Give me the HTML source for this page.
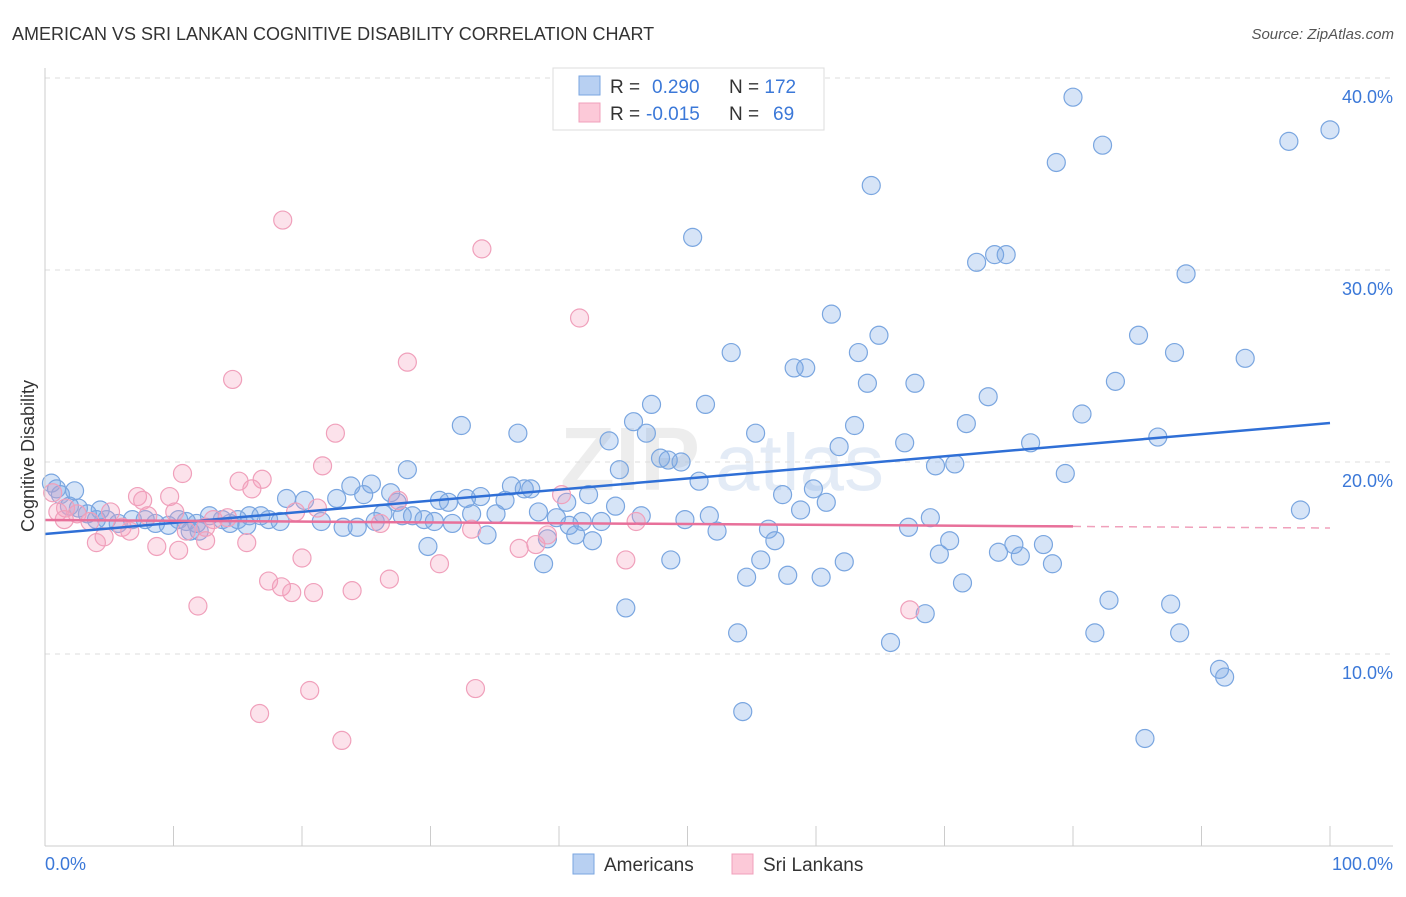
<!DOCTYPE html>
<html><head><meta charset="utf-8"><style>
body{margin:0;background:#fff;font-family:"Liberation Sans",sans-serif}
svg text{font-family:"Liberation Sans",sans-serif}
</style></head><body>
<svg id="chart" width="1406" height="892">
<text x="12" y="40" font-size="18" fill="#333">AMERICAN VS SRI LANKAN COGNITIVE DISABILITY CORRELATION CHART</text>
<text x="1394" y="39" font-size="15" fill="#555" font-style="italic" text-anchor="end">Source: ZipAtlas.com</text>
<text x="560" y="490" font-size="90" fill="#ddd" opacity="0.5" font-weight="bold">ZIP</text>
<text x="715" y="490" font-size="80" fill="#c8d8ee" opacity="0.5">atlas</text>
<text x="34" y="456" font-size="18" fill="#333" text-anchor="middle" transform="rotate(-90 34 456)">Cognitive Disability</text>
<g id="grid"></g><g id="pts"></g><g id="lines"></g>
<line x1="45" y1="846" x2="1393" y2="846" stroke="#ccc"/>
<line x1="45" y1="68" x2="45" y2="846" stroke="#ccc"/>
<text x="45" y="870" font-size="18" fill="#3b78d8">0.0%</text>
<text x="1393" y="870" font-size="18" fill="#3b78d8" text-anchor="end">100.0%</text>
<g>
<rect x="553" y="68" width="271" height="62" fill="#fff" stroke="#ddd"/>
<rect x="579" y="76" width="21" height="19" fill="#b8d0f2" stroke="#7aa6e0"/>
<rect x="579" y="103" width="21" height="19" fill="#fcc9d8" stroke="#f0a0bb"/>
<text x="610" y="93" font-size="19" fill="#333">R = <tspan fill="#3b78d8" x="652">0.290</tspan><tspan x="729">N = </tspan><tspan fill="#3b78d8">172</tspan></text>
<text x="610" y="120" font-size="19" fill="#333">R = <tspan fill="#3b78d8" x="646">-0.015</tspan><tspan x="729">N = </tspan><tspan fill="#3b78d8" x="773">69</tspan></text>
</g>
<g>
<rect x="573" y="854" width="21" height="20" fill="#b8d0f2" stroke="#7aa6e0"/>
<text x="604" y="871" font-size="19" fill="#333">Americans</text>
<rect x="732" y="854" width="21" height="20" fill="#fcc9d8" stroke="#f0a0bb"/>
<text x="763" y="871" font-size="19" fill="#333">Sri Lankans</text>
</g>
</svg>
<script>
const yTicks=[10,20,30,40];
const yTickLabels=["10.0%","20.0%","30.0%","40.0%"];
const xTicks=[0,10,20,30,40,50,60,70,80,90,100];
const blueX=[80.0,100,96.8,82.3,78.7,64.3,50.4,73.9,74.8,72.5,88.8,61.2,64.9,85.1,53.4,63.3,87.9,93.4,58.3,59.2,64.0,67.7,83.3,73.4,51.4,47.2,80.7,45.8,71.7,63.0,32.4,36.8,46.8,55.3,86.6,43.9,66.9,76.7,61.8,47.9,48.5,49.5,70.8,69.3,44.7,28.2,79.4,50.9,23.8,25.4,36.3,37.3,37.8,59.8,26.9,24.8,22.7,42.3,57.4,30.7,31.4,32.8,33.9,35.8,40.6,18.8,20.2,60.8,27.4,44.4,38.4,58.8,97.7,33.2,35.1,26.3,27.8,28.6,29.5,30.3,31.7,39.8,40.8,41.8,43.3,46.4,49.8,51.7,68.9,25.7,16.8,15.9,17.4,18.3,21.5,15.0,12.8,13.8,14.4,11.8,10.4,11.0,9.6,7.8,8.6,6.8,5.7,4.8,4.0,3.3,2.6,1.9,1.2,0.5,0.9,2.3,4.3,23.2,24.3,34.4,39.1,41.3,42.6,52.3,56.3,67.2,56.8,29.8,70.4,75.4,77.7,38.8,48.7,55.7,62.2,69.6,74.2,75.9,78.4,54.6,57.8,60.4,71.4,45.2,68.5,82.8,87.6,53.9,81.7,88.3,65.8,91.4,91.8,54.3,85.6,12.0,11.3,15.7];
const blueY=[39.0,37.3,36.7,36.5,35.6,34.4,31.7,30.8,30.8,30.4,29.8,27.7,26.6,26.6,25.7,25.7,25.7,25.4,24.9,24.9,24.1,24.1,24.2,23.4,23.0,23.0,22.5,22.1,22.0,21.9,21.9,21.5,21.5,21.5,21.3,21.1,21.0,21.0,20.8,20.2,20.1,20.0,19.9,19.8,19.6,19.6,19.4,19.0,18.75,18.85,18.75,18.6,18.6,18.6,18.4,18.3,18.1,18.3,18.3,18.0,17.9,18.1,18.2,18.0,17.9,18.1,18.0,17.9,17.9,17.7,17.4,17.5,17.5,17.3,17.3,17.3,17.2,17.2,17.0,16.9,16.8,17.1,16.7,16.9,16.9,17.2,17.0,17.2,17.1,16.9,17.2,17.2,17.0,16.9,16.9,17.0,17.2,17.0,16.8,16.8,17.0,16.9,16.7,17.0,16.8,17.0,16.8,17.0,17.0,17.3,17.6,17.7,18.3,18.9,18.6,18.5,17.5,16.6,16.6,16.2,16.0,16.2,15.9,16.4,16.5,16.6,15.9,15.6,15.9,15.7,15.7,14.7,14.9,14.9,14.8,15.2,15.3,15.1,14.7,14.0,14.1,14.0,13.7,12.4,12.1,12.8,12.6,11.1,11.1,11.1,10.6,9.2,8.8,7.0,5.6,16.4,16.4,16.7];
const pinkX=[18.5,34.0,41.6,28.2,14.6,22.6,21.6,10.7,15.1,16.9,16.1,40.2,7.2,9.7,7.6,0.6,27.5,21.2,19.5,5.1,1.6,1.0,2.5,10.1,8.0,14.2,13.1,26.1,46.0,1.5,3.5,6.0,12.5,11.0,33.2,6.6,4.6,39.1,4.0,15.7,12.5,8.7,10.4,36.9,38.2,20.0,30.7,45.2,17.4,18.4,26.8,19.2,20.9,23.9,11.9,67.3,20.6,33.5,16.7,23.1];
const pinkY=[32.6,31.1,27.5,25.2,24.3,21.5,19.8,19.4,19.0,19.1,18.6,18.3,18.2,18.2,18.0,18.4,18.0,17.6,17.4,17.4,17.6,17.4,17.3,17.4,17.2,17.1,17.0,16.8,16.9,17.0,16.9,16.6,16.6,16.4,16.5,16.4,16.1,16.2,15.8,15.8,15.9,15.6,15.4,15.5,15.7,15.0,14.7,14.9,13.8,13.5,13.9,13.2,13.2,13.3,12.5,12.3,8.1,8.2,6.9,5.5];
const blueTrend=[16.25,22.03];
const pinkTrend=[16.98,16.56];
const NS="http://www.w3.org/2000/svg";
const sx=v=>45+v*12.85, sy=v=>846-v*19.2;
function mk(t,a,p){const e=document.createElementNS(NS,t);for(const k in a)e.setAttribute(k,a[k]);p.appendChild(e);return e;}
const grid=document.getElementById('grid');
yTicks.forEach((t,i)=>{
 const l=mk('line',{x1:45,x2:1393,y1:sy(t),y2:sy(t),stroke:'#ddd','stroke-dasharray':'5,5'},grid);
 
 
 const tx=mk('text',{x:1393,y:sy(t)+25,'font-size':18,fill:'#3b78d8','text-anchor':'end'},grid);
 tx.textContent=yTickLabels[i];
 
 
});
xTicks.forEach(t=>{
 const l=mk('line',{x1:sx(t),x2:sx(t),y1:826,y2:846,stroke:'#ccc'},grid);
 
 
});
const pts=document.getElementById('pts');
blueX.forEach((x,i)=>{
 const c=mk('circle',{cx:sx(x),cy:sy(blueY[i]),r:9,fill:'rgba(120,165,230,0.3)',stroke:'#7aa6e0','stroke-width':1.2},pts);
 
 
});
pinkX.forEach((x,i)=>{
 const c=mk('circle',{cx:sx(x),cy:sy(pinkY[i]),r:9,fill:'rgba(245,160,190,0.3)',stroke:'#f0a0bb','stroke-width':1.2},pts);
 
 
});
const lines=document.getElementById('lines');
const bl=mk('line',{x1:sx(0),y1:sy(blueTrend[0]),x2:sx(100),y2:sy(blueTrend[1]),stroke:'#2f6fd6','stroke-width':2.5},lines);


const pe=pinkTrend[0]+(pinkTrend[1]-pinkTrend[0])*0.8;
const pl=mk('line',{x1:sx(0),y1:sy(pinkTrend[0]),x2:sx(80),y2:sy(pe),stroke:'#e8709a','stroke-width':2.5},lines);


const pd=mk('line',{x1:sx(80),y1:sy(pe),x2:sx(100),y2:sy(pinkTrend[1]),stroke:'#f0a0bb','stroke-width':1.5,'stroke-dasharray':'8,6'},lines);


</script>
</body></html>
